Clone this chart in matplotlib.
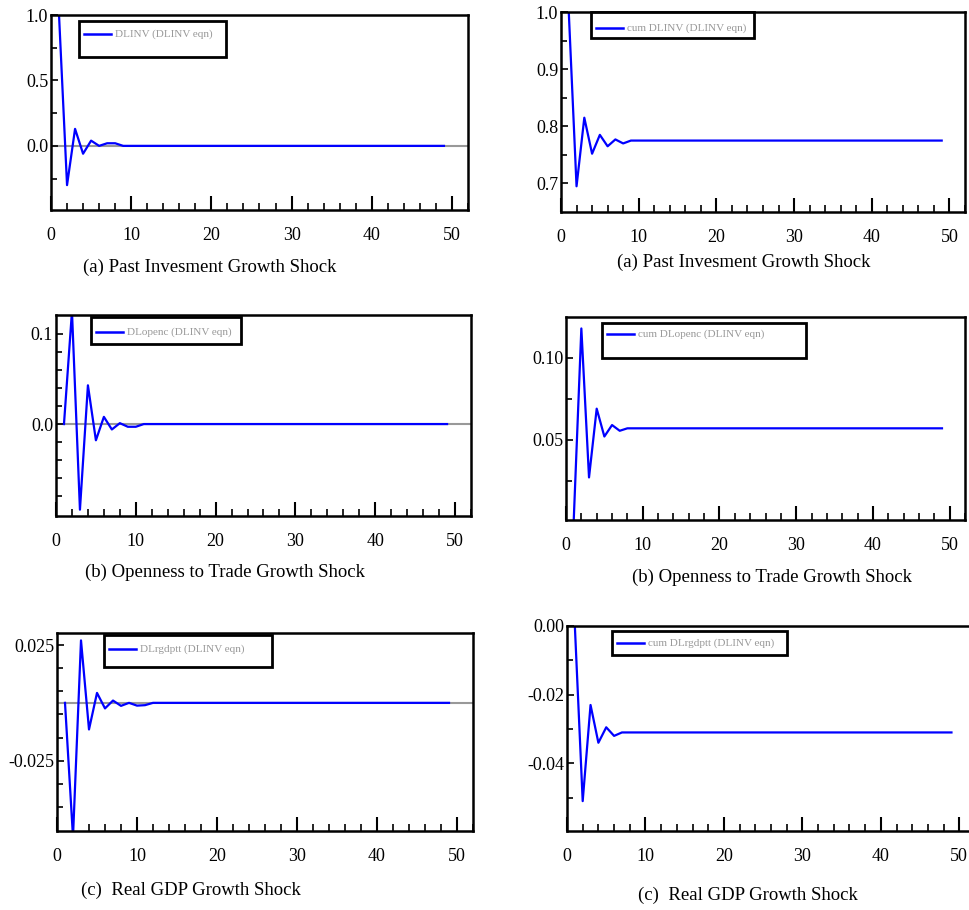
import numpy as np
import matplotlib
matplotlib.use("Agg")
import matplotlib.pyplot as plt
from matplotlib.patches import Rectangle
from matplotlib.lines import Line2D
from matplotlib.ticker import MultipleLocator, FixedLocator, FormatStrFormatter

plt.rcParams['font.family'] = ['Liberation Serif', 'DejaVu Serif']
plt.rcParams['axes.unicode_minus'] = False

W, H = 970, 910

# impulse responses (horizon 1..49)
steps = list(range(1, 50))

dlinv_head = [1.0, -0.30, 0.13, -0.06, 0.04, 0.0, 0.02, 0.02]
cum_dlinv_head = [1.0, 0.695, 0.815, 0.752, 0.785, 0.765, 0.777, 0.770, 0.775]
dlopenc_head = [0.0, 0.125, -0.095, 0.043, -0.018, 0.008, -0.006, 0.001, -0.003, -0.003]
cum_dlopenc_head = [0.0, 0.118, 0.027, 0.069, 0.052, 0.059, 0.0555, 0.057]
dlrgdp_head = [0.0, -0.058, 0.027, -0.0115, 0.0043, -0.0024, 0.001, -0.0013, 0.0, -0.0012, -0.001]
cum_dlrgdp_head = [0.0, -0.051, -0.023, -0.034, -0.0295, -0.032, -0.031]

dlinv = dlinv_head + [0.0] * (49 - len(dlinv_head))
cum_dlinv = cum_dlinv_head + [0.775] * (49 - len(cum_dlinv_head))
dlopenc = dlopenc_head + [0.0] * (49 - len(dlopenc_head))
cum_dlopenc = cum_dlopenc_head + [0.057] * (49 - len(cum_dlopenc_head))
dlrgdp = dlrgdp_head + [0.0] * (49 - len(dlrgdp_head))
cum_dlrgdp = cum_dlrgdp_head + [-0.031] * (49 - len(cum_dlrgdp_head))

labels = ["DLINV (DLINV eqn)", "cum DLINV (DLINV eqn)",
          "DLopenc (DLINV eqn)", "cum DLopenc (DLINV eqn)",
          "DLrgdptt (DLINV eqn)", "cum DLrgdptt (DLINV eqn)"]
captions = ["(a) Past Invesment Growth Shock", "(a) Past Invesment Growth Shock",
            "(b) Openness to Trade Growth Shock", "(b) Openness to Trade Growth Shock",
            "(c)  Real GDP Growth Shock", "(c)  Real GDP Growth Shock"]
series = [dlinv, cum_dlinv, dlopenc, cum_dlopenc, dlrgdp, cum_dlrgdp]

# tick values shown on each y axis
yticks = [[0.0, 0.5, 1.0], [0.7, 0.8, 0.9, 1.0], [0.0, 0.1],
          [0.05, 0.10], [-0.025, 0.025], [-0.04, -0.02, 0.0]]
yminor = [[-0.25, 0.25, 0.75], [0.75, 0.85, 0.95],
          [-0.08, -0.06, -0.04, -0.02, 0.02, 0.04, 0.06, 0.08],
          [0.025, 0.075], [-0.045, -0.035, -0.015, -0.005, 0.005, 0.015],
          [-0.05, -0.03, -0.01]]

# layout in pixels: axes box (L, T, R, B), legend box, caption centre
panels = [
    dict(box=(51, 15, 468, 210), ylim=(-0.49, 1.0), fmt='%.1f',
         leg=(79, 21, 226, 57), legy=34, cap=(210, 267), zero=True),
    dict(box=(561, 12, 965, 212), ylim=(0.65, 1.0), fmt='%.1f',
         leg=(591, 12, 754, 38), legy=28, cap=(744, 262), zero=False),
    dict(box=(56, 315, 471, 516), ylim=(-0.102, 0.121), fmt='%.1f',
         leg=(91, 317, 241, 344), legy=332, cap=(225, 572), zero=True),
    dict(box=(566, 317, 965, 520), ylim=(0.001, 0.125), fmt='%.2f',
         leg=(602, 323, 806, 358), legy=334, cap=(772, 577), zero=False),
    dict(box=(57, 633, 473, 831), ylim=(-0.0554, 0.0302), fmt='%.3f',
         leg=(104, 635, 272, 667), legy=649, cap=(191, 890), zero=True),
    dict(box=(567, 626, 975, 831), ylim=(-0.0597, 0.0), fmt='%.2f',
         leg=(612, 631, 787, 655), legy=643, cap=(748, 895), zero=False),
]

fig = plt.figure(figsize=(W / 100, H / 100), dpi=100)

for p, y, lab, cap, yt, ym in zip(panels, series, labels, captions, yticks, yminor):
    L, T, R, B = p['box']
    ax = fig.add_axes([L / W, 1 - B / H, (R - L) / W, (B - T) / H])
    if p['zero']:
        ax.axhline(0, color='#999999', lw=1.5, zorder=1)
    ax.plot(steps, y, color='#0000ff', lw=1.6, zorder=2)
    ax.set_xlim(0, 52)
    ax.set_ylim(*p['ylim'])
    for s in ax.spines.values():
        s.set_linewidth(1.8)
    ax.xaxis.set_major_locator(MultipleLocator(10))
    ax.xaxis.set_minor_locator(MultipleLocator(2))
    ax.yaxis.set_major_locator(FixedLocator(yt))
    ax.yaxis.set_minor_locator(FixedLocator(ym))
    ax.yaxis.set_major_formatter(FormatStrFormatter(p['fmt']))
    ax.tick_params(axis='x', which='major', direction='in', length=10, width=1.5,
                   labelsize=13, pad=12, top=False)
    ax.tick_params(axis='x', which='minor', direction='in', length=5, width=1.2, top=False)
    ax.tick_params(axis='y', which='major', direction='in', length=5, width=1.2,
                   labelsize=13, pad=2, right=False)
    ax.tick_params(axis='y', which='minor', direction='in', length=4, width=1.2, right=False)

    # legend box
    x0, y0, x1, y1 = p['leg']
    fig.add_artist(Rectangle((x0 / W, 1 - y1 / H), (x1 - x0) / W, (y1 - y0) / H,
                             transform=fig.transFigure, facecolor='white',
                             edgecolor='black', lw=2, zorder=5))
    ly = 1 - p['legy'] / H
    fig.add_artist(Line2D([(x0 + 5) / W, (x0 + 32) / W], [ly, ly],
                          transform=fig.transFigure, color='#0000ff', lw=1.8, zorder=6))
    fig.text((x0 + 36) / W, ly, lab, fontsize=8, color='#999999',
             va='center', ha='left', zorder=6)

    cx, cy = p['cap']
    fig.text(cx / W, 1 - cy / H, cap, fontsize=13.5, ha='center', va='center')

fig.savefig("out.png", dpi=100)
